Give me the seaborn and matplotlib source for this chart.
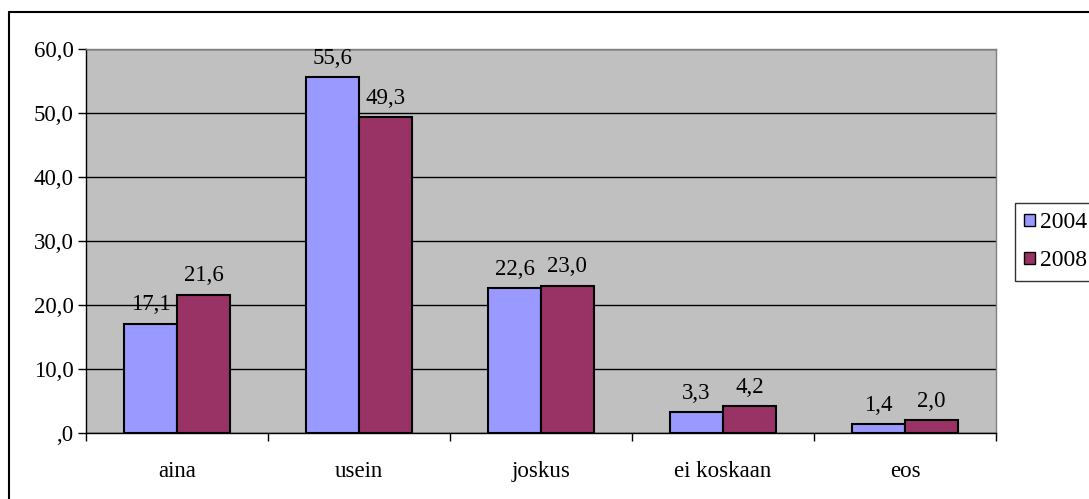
import matplotlib
matplotlib.use("Agg")
import matplotlib.pyplot as plt
from matplotlib.patches import Rectangle
from matplotlib.lines import Line2D
from matplotlib.ticker import FuncFormatter, FixedLocator
import seaborn as sns
import pandas as pd

categories = ["aina", "usein", "joskus", "ei koskaan", "eos"]
years = ["2004", "2008"]
values_2004 = [17.1, 55.6, 22.6, 3.3, 1.4]
values_2008 = [21.6, 49.3, 23.0, 4.2, 2.0]
y_ticks = [0, 10, 20, 30, 40, 50, 60]

df = pd.DataFrame({
    "kategoria": categories * 2,
    "vuosi": [years[0]] * len(categories) + [years[1]] * len(categories),
    "osuus": values_2004 + values_2008,
})

sns.set_theme(style="white")
plt.rcParams["font.family"] = ["Liberation Serif", "DejaVu Serif"]
plt.rcParams["text.color"] = "black"
plt.rcParams["xtick.color"] = "black"
plt.rcParams["ytick.color"] = "black"

FS = 16.5

fig = plt.figure(figsize=(10.89, 4.99), dpi=100)
ax = fig.add_axes([86 / 1089, 1 - 433 / 499, 910 / 1089, 384 / 499])
ax.set_facecolor("#C0C0C0")

palette = {"2004": "#9999FF", "2008": "#993366"}
sns.barplot(data=df, x="kategoria", y="osuus", hue="vuosi", hue_order=years,
            order=categories, palette=palette, width=0.58, ax=ax,
            edgecolor="black", linewidth=1.5, saturation=1, legend=False, zorder=3)

ax.set_ylim(0, 60)
ax.set_xlim(-0.5, len(categories) - 0.5)
ax.yaxis.set_major_locator(FixedLocator(y_ticks))


def fi_fmt(v, pos):
    s = f"{v:.1f}".replace(".", ",")
    return s[1:] if s.startswith("0,") else s


ax.yaxis.set_major_formatter(FuncFormatter(fi_fmt))
ax.grid(axis="y", color="black", linewidth=1, zorder=0)
ax.set_axisbelow(True)
ax.set_xlabel("")
ax.set_ylabel("")

# category boundary ticks on the x axis
ax.set_xticks([i for i in range(len(categories))])
ax.set_xticklabels(categories, fontsize=FS, color="black")
ax.set_xticks([i - 0.5 for i in range(len(categories) + 1)], minor=True)
ax.tick_params(axis="x", which="major", length=0, pad=20)
ax.tick_params(axis="x", which="minor", length=6, width=1, color="black", direction="out")
ax.tick_params(axis="y", length=6, width=1, color="black", direction="out",
               labelsize=FS, labelcolor="black", pad=3)
ax.tick_params(left=True, bottom=True, which="both")

for side in ["left", "bottom"]:
    ax.spines[side].set_color("black")
    ax.spines[side].set_linewidth(1)
for side in ["top", "right"]:
    ax.spines[side].set_color("#808080")
    ax.spines[side].set_linewidth(1)

for container in ax.containers:
    ax.bar_label(container, labels=[fi_fmt(b.get_height(), None) for b in container],
                 padding=6, fontsize=FS, color="black")

# legend box
handles = [Rectangle((0, 0), 1, 1, facecolor=palette[y], edgecolor="black", linewidth=1)
           for y in years]
leg = fig.legend(handles, years, loc="upper left",
                 bbox_to_anchor=(1015 / 1089, 1 - 203 / 499),
                 frameon=True, fancybox=False, fontsize=17, handlelength=0.45,
                 handleheight=0.45, handletextpad=0.2, borderpad=0.4,
                 labelspacing=0.72, borderaxespad=0)
leg.get_frame().set_edgecolor("black")
leg.get_frame().set_linewidth(1)
for t in leg.get_texts():
    t.set_color("black")

# chart area border (top and left edges)
top_y = 1 - 11.5 / 499
left_x = 8.5 / 1089
fig.add_artist(Line2D([left_x, 1], [top_y, top_y], transform=fig.transFigure,
                      color="black", linewidth=1.5))
fig.add_artist(Line2D([left_x, left_x], [0, top_y], transform=fig.transFigure,
                      color="black", linewidth=1.5))

fig.savefig("out.png", dpi=100)
